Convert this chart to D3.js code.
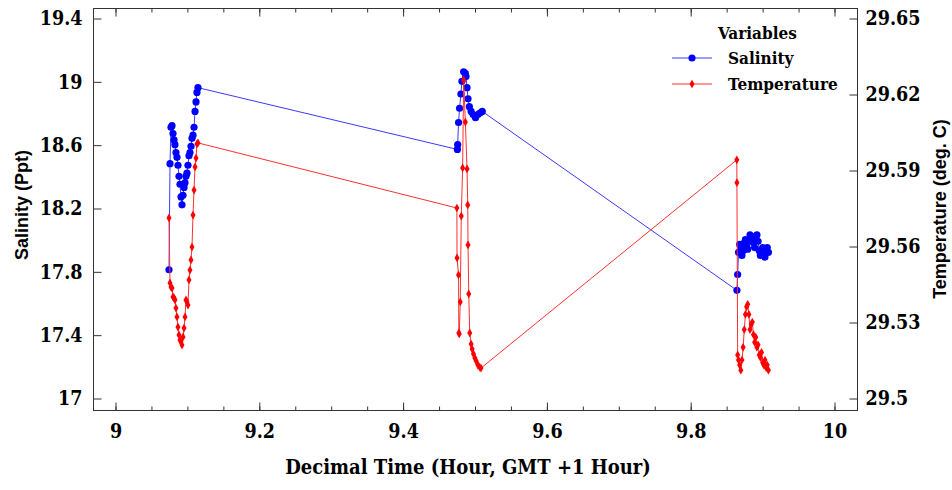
<!DOCTYPE html>
<html>
<head>
<meta charset="utf-8">
<script src="https://cdn.jsdelivr.net/npm/d3@7"></script>
<style>
  body { margin: 0; background: #fff; }
  .domain { display: none; }
  .tick line { stroke: #333; }
</style>
</head>
<body>
<div class="chart-container"></div>
<script>
// data
const salTime = [
  9.0751, 9.0765, 9.0779, 9.0793, 9.0807, 9.0821, 9.0834, 9.0848, 9.0862, 9.0876,
  9.0890, 9.0904, 9.0918, 9.0932, 9.0946, 9.0960, 9.0974, 9.0987, 9.1001, 9.1015,
  9.1029, 9.1043, 9.1057, 9.1071, 9.1085, 9.1099, 9.1113, 9.1127, 9.1140, 9.1154,
  9.4762, 9.4766, 9.4778, 9.4792, 9.4811, 9.4825, 9.4849, 9.4873, 9.4882, 9.4896,
  9.4910, 9.4929, 9.4953, 9.4981, 9.5014, 9.5047, 9.5075, 9.5108,
  9.8650, 9.8660, 9.8672, 9.8688, 9.8704, 9.8720, 9.8736, 9.8752, 9.8768, 9.8784,
  9.8800, 9.8816, 9.8832, 9.8848, 9.8864, 9.8880, 9.8896, 9.8912, 9.8928, 9.8944,
  9.8960, 9.8976, 9.8992, 9.9008, 9.9024, 9.9040, 9.9056, 9.9072, 9.9088
];
const salinity = [
  17.81, 18.48, 18.71, 18.72, 18.67, 18.63, 18.60, 18.55, 18.52, 18.47,
  18.40, 18.35, 18.27, 18.22, 18.28, 18.33, 18.36, 18.40, 18.42, 18.47,
  18.53, 18.55, 18.59, 18.64, 18.66, 18.71, 18.81, 18.87, 18.93, 18.96,
  18.57, 18.60, 18.74, 18.83, 18.92, 19.00, 19.06, 19.05, 19.03, 18.96,
  18.89, 18.84, 18.81, 18.79, 18.77, 18.79, 18.80, 18.81,
  17.68, 17.78, 17.92, 17.97, 17.95, 17.90, 17.93, 17.98, 18.00, 17.96,
  17.94, 17.99, 18.03, 18.01, 18.02, 17.98, 17.95, 18.00, 18.03, 17.99,
  17.93, 17.90, 17.92, 17.95, 17.91, 17.89, 17.93, 17.95, 17.92
];

const tempTime = [
  9.0751, 9.0765, 9.0779, 9.0793, 9.0807, 9.0821, 9.0834, 9.0848, 9.0862, 9.0876,
  9.0890, 9.0904, 9.0918, 9.0932, 9.0946, 9.0960, 9.0974, 9.0987, 9.1001, 9.1015,
  9.1029, 9.1043, 9.1057, 9.1071, 9.1085, 9.1099, 9.1113, 9.1127, 9.1140, 9.1154,
  9.4755, 9.4757, 9.4778, 9.4782, 9.4788, 9.4802, 9.4816, 9.4835, 9.4849, 9.4873,
  9.4896, 9.4906, 9.4910, 9.4920, 9.4934, 9.4953, 9.4967, 9.4986, 9.5005, 9.5024,
  9.5047, 9.5071, 9.5090,
  9.8648, 9.8650, 9.8660, 9.8672, 9.8688, 9.8704, 9.8720, 9.8736, 9.8752, 9.8768,
  9.8784, 9.8800, 9.8816, 9.8832, 9.8848, 9.8864, 9.8880, 9.8896, 9.8912, 9.8928,
  9.8944, 9.8960, 9.8976, 9.8992, 9.9008, 9.9024, 9.9040, 9.9056, 9.9072, 9.9088
];
const temperature = [
  29.5711, 29.5454, 29.5438, 29.5434, 29.5399, 29.5395, 29.5387, 29.5355, 29.5320, 29.5280,
  29.5249, 29.5229, 29.5221, 29.5209, 29.5241, 29.5276, 29.5320, 29.5387, 29.5379, 29.5367,
  29.5466, 29.5505, 29.5545, 29.5596, 29.5722, 29.5821, 29.5912, 29.5947, 29.6003, 29.6007,
  29.5750, 29.5553, 29.5486, 29.5257, 29.5253, 29.5379, 29.5718, 29.5908, 29.6255, 29.6089,
  29.5904, 29.5762, 29.5604, 29.5411, 29.5257, 29.5213, 29.5193, 29.5174, 29.5158, 29.5146,
  29.5130, 29.5122, 29.5118,
  29.594, 29.585, 29.517, 29.515, 29.513, 29.511, 29.515, 29.520, 29.527, 29.533,
  29.536, 29.537, 29.533, 29.527, 29.529, 29.530, 29.525, 29.522, 29.524, 29.520,
  29.521, 29.517, 29.516, 29.518, 29.514, 29.513, 29.515, 29.512, 29.513, 29.511
];

const xTicks = [9, 9.2, 9.4, 9.6, 9.8, 10];
const salTicks = [17, 17.4, 17.8, 18.2, 18.6, 19, 19.4];
const tempTicks = [29.5, 29.53, 29.56, 29.59, 29.62, 29.65];
const legendNames = ["Salinity", "Temperature"];

const serif = "DejaVu Serif";
const w = 952;
const h = 490;
const frame = { left: 93, right: 857, top: 8, bottom: 410 };

const x = d3.scaleLinear().domain([9, 10]).range([115, 834]);
const ySal = d3.scaleLinear().domain([17, 19.4]).range([398, 18]);
const yTemp = d3.scaleLinear().domain([29.5, 29.65]).range([398, 18]);

const svg = d3.select(".chart-container")
  .append("svg")
  .attr("width", w)
  .attr("height", h);

// frame
svg.append("rect")
  .attr("x", frame.left + 0.5)
  .attr("y", frame.top + 0.5)
  .attr("width", frame.right - frame.left)
  .attr("height", frame.bottom - frame.top)
  .attr("fill", "none")
  .attr("stroke", "#333");

const minorX = d3.range(9, 10.0001, 0.05);

function styleLabels(g) {
  g.selectAll(".tick text")
    .attr("font-family", serif)
    .attr("font-stretch", "condensed")
    .attr("font-weight", "bold")
    .attr("font-size", 19.5)
    .attr("fill", "#000");
}

// bottom axis (ticks point inward)
svg.append("g")
  .attr("transform", `translate(0.5,${frame.bottom + 0.5})`)
  .call(d3.axisBottom(x).tickValues(minorX).tickSize(-4).tickFormat(""));
svg.append("g")
  .attr("transform", `translate(0.5,${frame.bottom + 0.5})`)
  .call(d3.axisBottom(x).tickValues(xTicks).tickSize(-8).tickPadding(14).tickFormat(d3.format("")))
  .call(styleLabels);

// top axis
svg.append("g")
  .attr("transform", `translate(0.5,${frame.top + 0.5})`)
  .call(d3.axisTop(x).tickValues(minorX).tickSize(-4).tickFormat(""));
svg.append("g")
  .attr("transform", `translate(0.5,${frame.top + 0.5})`)
  .call(d3.axisTop(x).tickValues(xTicks).tickSize(-8).tickFormat(""));

// left axis
svg.append("g")
  .attr("transform", `translate(${frame.left + 0.5},0.5)`)
  .call(d3.axisLeft(ySal).tickValues(salTicks).tickSize(-8).tickPadding(11).tickFormat(d3.format("")))
  .call(styleLabels);

// right axis
svg.append("g")
  .attr("transform", `translate(${frame.right + 0.5},0.5)`)
  .call(d3.axisRight(yTemp).tickValues(tempTicks).tickSize(-8).tickPadding(8).tickFormat(d3.format("")))
  .call(styleLabels);

// axis titles
svg.append("text")
  .attr("x", 468)
  .attr("y", 474)
  .attr("text-anchor", "middle")
  .attr("font-family", serif)
  .attr("font-stretch", "condensed")
  .attr("font-weight", "bold")
  .attr("font-size", 20)
  .text("Decimal Time (Hour, GMT +1 Hour)");

svg.append("text")
  .attr("transform", "translate(28,205) rotate(-90)")
  .attr("text-anchor", "middle")
  .attr("font-family", "Liberation Sans, Arial, sans-serif")
  .attr("font-weight", "bold")
  .attr("font-size", 18)
  .text("Salinity (Ppt)");

svg.append("text")
  .attr("transform", "translate(946,209) rotate(-90)")
  .attr("text-anchor", "middle")
  .attr("font-family", "Liberation Sans, Arial, sans-serif")
  .attr("font-weight", "bold")
  .attr("font-size", 18)
  .text("Temperature (deg. C)");

const salData = salTime.map((t, i) => ({ t: t, v: salinity[i] }));
const tempData = tempTime.map((t, i) => ({ t: t, v: temperature[i] }));

const salLine = d3.line().x(d => x(d.t)).y(d => ySal(d.v));
const tempLine = d3.line().x(d => x(d.t)).y(d => yTemp(d.v));

// salinity series
svg.append("path")
  .datum(salData)
  .attr("d", salLine)
  .attr("fill", "none")
  .attr("stroke", "#3a3aff")
  .attr("stroke-width", 1);

svg.append("g")
  .selectAll("circle")
  .data(salData)
  .enter()
    .append("circle")
    .attr("cx", d => x(d.t))
    .attr("cy", d => ySal(d.v))
    .attr("r", 3.6)
    .attr("fill", "#0000ff");

// temperature series
svg.append("path")
  .datum(tempData)
  .attr("d", tempLine)
  .attr("fill", "none")
  .attr("stroke", "#ff3030")
  .attr("stroke-width", 1);

const diamond = d3.symbol().type(d3.symbolDiamond).size(22);
svg.append("g")
  .selectAll("path")
  .data(tempData)
  .enter()
    .append("path")
    .attr("d", diamond)
    .attr("transform", d => `translate(${x(d.t)},${yTemp(d.v)})`)
    .attr("fill", "#ff0000");

// legend
const legend = svg.append("g").attr("class", "legend")
  .attr("font-family", serif)
  .attr("font-stretch", "condensed")
  .attr("font-weight", "bold")
  .attr("font-size", 17);
legend.append("text")
  .attr("x", 718)
  .attr("y", 39)
  .text("Variables");

const item = legend.selectAll(".item")
  .data(legendNames)
  .enter()
    .append("g")
    .attr("class", "item")
    .attr("transform", (d, i) => `translate(0,${58 + i * 26})`);

item.append("line")
  .attr("x1", 672).attr("x2", 712)
  .attr("stroke", (d, i) => i === 0 ? "#3a3aff" : "#ff3030")
  .attr("stroke-width", 1);

item.append("path")
  .attr("d", (d, i) => i === 0
    ? d3.symbol().type(d3.symbolCircle).size(40)()
    : diamond())
  .attr("transform", "translate(692,0)")
  .attr("fill", (d, i) => i === 0 ? "#0000ff" : "#ff0000");

item.append("text")
  .attr("x", 728)
  .attr("y", 6)
  .text(d => d);
</script>
</body>
</html>
